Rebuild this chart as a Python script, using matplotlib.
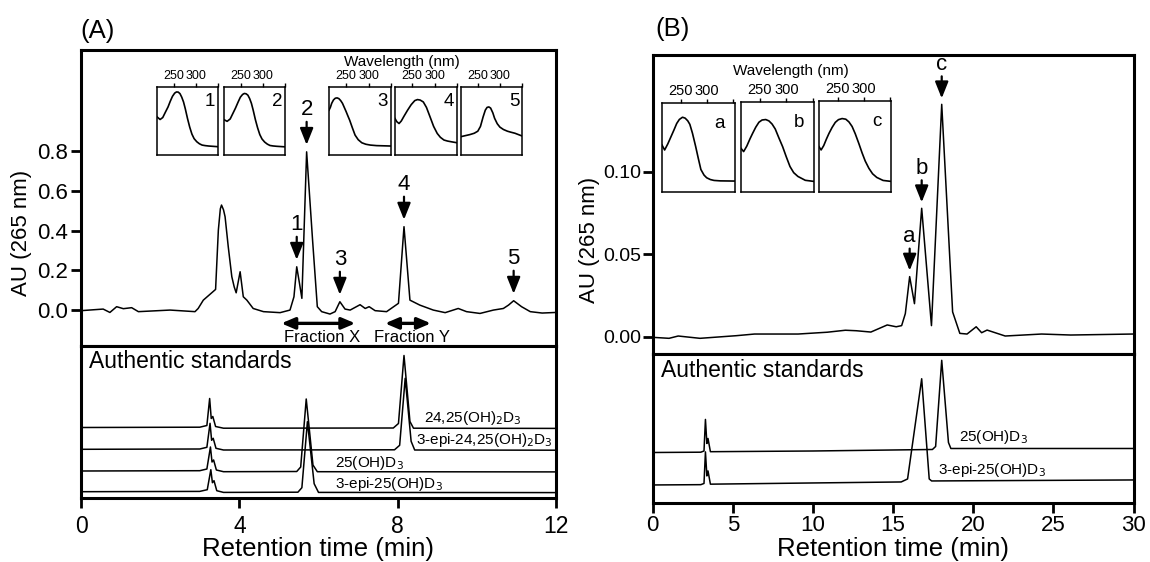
import numpy as np
import matplotlib
matplotlib.use('Agg')
import matplotlib.pyplot as plt

plt.rcParams['font.family'] = ['Liberation Sans', 'DejaVu Sans']

W, H = 1150, 562

# ---------------- Panel A: main chromatogram ----------------
a_time = [0.00, 0.56, 0.73, 0.90, 1.07, 1.28, 1.45, 2.25, 2.88, 2.96, 3.09, 3.40, 3.47, 3.52, 3.55,
          3.60, 3.64, 3.72, 3.81, 3.87, 3.92, 4.02, 4.10, 4.19, 4.35, 4.61, 5.03, 5.28, 5.38, 5.45,
          5.52, 5.58, 5.70, 5.85, 5.97, 6.08, 6.29, 6.42, 6.54, 6.67, 6.80, 7.05, 7.18, 7.28, 7.43,
          7.72, 8.02, 8.16, 8.31, 8.56, 8.90, 9.20, 9.53, 9.74, 10.08, 10.42, 10.67, 10.80, 10.93,
          11.13, 11.35, 11.65, 12.00]
a_au = [-0.003, 0.005, -0.012, 0.017, 0.007, 0.012, -0.008, 0.000, -0.008, 0.008, 0.050, 0.104, 0.403,
        0.510, 0.529, 0.505, 0.470, 0.319, 0.168, 0.117, 0.087, 0.193, 0.067, 0.050, 0.008, -0.008,
        -0.013, 0.000, 0.067, 0.218, 0.134, 0.059, 0.797, 0.353, 0.017, -0.008, -0.020, -0.008, 0.042,
        0.005, 0.000, 0.027, 0.008, 0.017, -0.003, -0.008, 0.034, 0.420, 0.050, 0.025, 0.000, -0.013,
        0.008, -0.008, -0.017, 0.000, 0.008, 0.025, 0.047, 0.017, -0.008, -0.015, -0.012]
a_peak_labels = ['1', '2', '3', '4', '5']
a_peak_times = [5.45, 5.70, 6.54, 8.16, 10.93]

# Authentic standards (panel A), signal above each trace's own baseline (arbitrary units)
std_a_names = ['24,25(OH)$_2$D$_3$', '3-epi-24,25(OH)$_2$D$_3$', '25(OH)D$_3$', '3-epi-25(OH)D$_3$']
std_a_offset = [70.5, 48.7, 27.0, 6.3]
std_a_time = [
    [0, 3.00, 3.18, 3.25, 3.29, 3.33, 3.40, 3.60, 7.89, 8.02, 8.16, 8.31, 8.40, 12],
    [0, 3.00, 3.18, 3.26, 3.30, 3.34, 3.41, 3.60, 7.92, 8.05, 8.19, 8.34, 8.43, 12],
    [0, 3.00, 3.18, 3.27, 3.31, 3.35, 3.42, 3.60, 5.45, 5.55, 5.69, 5.86, 5.97, 12],
    [0, 3.00, 3.19, 3.28, 3.32, 3.36, 3.43, 3.60, 5.48, 5.58, 5.72, 5.89, 6.00, 12],
]
std_a_signal = [
    [0, 0.3, 2, 29, 9, 11, 1, -0.7, -0.5, 4, 72, 6, -0.7, -0.9],
    [0, 0.3, 2, 26, 9, 11, 1, -0.7, -0.5, 4, 71, 8, -0.7, -0.9],
    [0, 0.3, 2, 24, 9, 11, 1, -0.7, -0.5, 4, 72, 6, -0.7, -0.9],
    [0, 0.3, 2, 22, 9, 11, 1, -0.7, -0.5, 4, 70, 8, -0.7, -0.9],
]
std_a_label_pos = [(8.66, 79.7), (8.46, 58.0), (6.41, 35.3), (6.41, 14.0)]

# UV spectra insets (panel A): wavelength nm, relative absorbance
spec_a_labels = ['1', '2', '3', '4', '5']
spec_a_wl = [
    [212, 219, 225, 231, 237, 242, 247, 252, 256, 260, 264, 268, 272, 276, 281, 286, 291, 296, 302, 308, 314, 321, 329, 350],
    [212, 219, 226, 232, 238, 244, 249, 254, 258, 262, 266, 270, 274, 278, 283, 288, 293, 298, 304, 310, 316, 323, 331, 350],
    [212, 215, 218, 222, 226, 230, 234, 238, 242, 246, 250, 254, 258, 264, 270, 277, 285, 294, 304, 318, 350],
    [212, 216, 221, 226, 232, 240, 248, 256, 262, 268, 275, 282, 290, 298, 306, 313, 321, 329, 337, 350],
    [212, 222, 232, 242, 250, 256, 262, 267, 271, 275, 279, 284, 288, 294, 300, 308, 317, 325, 334, 350],
]
spec_a_abs = [
    [0.561, 0.522, 0.551, 0.630, 0.707, 0.790, 0.863, 0.910, 0.927, 0.925, 0.902, 0.850, 0.780, 0.680, 0.537, 0.410, 0.307, 0.240, 0.195, 0.165, 0.146, 0.138, 0.132, 0.122],
    [0.520, 0.495, 0.530, 0.610, 0.690, 0.780, 0.850, 0.890, 0.905, 0.900, 0.880, 0.830, 0.760, 0.660, 0.520, 0.400, 0.300, 0.235, 0.190, 0.160, 0.140, 0.133, 0.128, 0.120],
    [0.659, 0.700, 0.760, 0.810, 0.835, 0.840, 0.829, 0.800, 0.760, 0.700, 0.640, 0.575, 0.512, 0.400, 0.293, 0.225, 0.180, 0.158, 0.146, 0.138, 0.132],
    [0.537, 0.490, 0.463, 0.500, 0.570, 0.659, 0.740, 0.800, 0.815, 0.808, 0.780, 0.700, 0.561, 0.420, 0.317, 0.260, 0.220, 0.205, 0.195, 0.180],
    [0.270, 0.285, 0.300, 0.320, 0.350, 0.420, 0.560, 0.660, 0.700, 0.707, 0.690, 0.620, 0.540, 0.460, 0.410, 0.375, 0.350, 0.335, 0.320, 0.280],
]

# ---------------- Panel B ----------------
b_time = [0.00, 1.02, 1.59, 2.95, 5.22, 6.35, 9.07, 10.89, 12.02, 12.70, 13.61, 14.63, 15.19, 15.53,
          15.76, 16.03, 16.33, 16.78, 17.39, 18.03, 18.71, 19.16, 19.61, 20.18, 20.52, 20.86, 21.99,
          24.26, 26.08, 29.93]
b_au = [-0.0004, -0.0010, 0.0004, -0.0010, 0.0006, 0.0016, 0.0016, 0.0027, 0.0039, 0.0036, 0.0028,
        0.0071, 0.0060, 0.0067, 0.0140, 0.0364, 0.0200, 0.0778, 0.0067, 0.1408, 0.0150, 0.0020,
        0.0016, 0.0060, 0.0024, 0.0040, 0.0004, 0.0016, 0.0010, 0.0016]
b_peak_labels = ['a', 'b', 'c']
b_peak_times = [16.03, 16.78, 18.03]

std_b_names = ['25(OH)D$_3$', '3-epi-25(OH)D$_3$']
std_b_offset = [50.7, 18.3]
std_b_time = [
    [0, 3.00, 3.20, 3.29, 3.38, 3.45, 3.60, 10, 17.45, 17.65, 18.03, 18.45, 18.60, 30],
    [0, 3.00, 3.20, 3.29, 3.38, 3.45, 3.60, 10, 15.50, 15.90, 16.78, 17.25, 17.40, 30],
]
std_b_signal = [
    [0, 0.3, 1.5, 33, 9, 14, 0.8, 1.5, 3, 6, 92, 10, 4, 4],
    [0, 0.3, 1.5, 33, 9, 14, 0.8, 2.0, 3, 6, 106, 6, 4, 5],
]
std_b_label_pos = [(19.1, 66.6), (17.8, 33.3)]

spec_b_labels = ['a', 'b', 'c']
spec_b_wl = [
    [214, 219, 225, 231, 237, 242, 247, 253, 258, 263, 267, 272, 278, 283, 288, 294, 299, 306, 313, 325, 352],
    [214, 219, 225, 231, 236, 242, 248, 254, 261, 267, 273, 279, 286, 293, 300, 307, 314, 322, 336, 352],
    [214, 218, 223, 228, 233, 239, 245, 251, 258, 265, 271, 277, 283, 290, 296, 302, 309, 316, 324, 336, 352],
]
spec_b_abs = [
    [0.528, 0.472, 0.540, 0.620, 0.700, 0.770, 0.815, 0.840, 0.830, 0.800, 0.760, 0.660, 0.513, 0.380, 0.253, 0.190, 0.160, 0.140, 0.130, 0.125, 0.123],
    [0.485, 0.449, 0.510, 0.590, 0.651, 0.720, 0.775, 0.800, 0.805, 0.790, 0.755, 0.700, 0.600, 0.504, 0.390, 0.283, 0.215, 0.173, 0.130, 0.118],
    [0.498, 0.462, 0.510, 0.580, 0.644, 0.710, 0.765, 0.795, 0.807, 0.800, 0.770, 0.720, 0.640, 0.530, 0.430, 0.340, 0.260, 0.200, 0.160, 0.127, 0.116],
]

# ---------------- drawing ----------------
fig = plt.figure(figsize=(W / 100, H / 100), dpi=100)


def px_axes(l, t, r, b):
    return fig.add_axes([l / W, 1 - b / H, (r - l) / W, (b - t) / H])


def frame(ax, lw=2.2):
    for s in ax.spines.values():
        s.set_linewidth(lw)


def peak_arrow(ax, x, y, label, gap, length, fs):
    ax.annotate('', xy=(x, y), xytext=(0, gap + length), textcoords='offset pixels',
                arrowprops=dict(arrowstyle='-|>,head_length=0.5,head_width=0.2', lw=1.6,
                                color='k', shrinkA=0, shrinkB=gap * 0.72, mutation_scale=20))
    ax.annotate(label, xy=(x, y), xytext=(0, gap + length + 12), textcoords='offset pixels',
                ha='center', va='center', fontsize=fs)


def inset(l, t, r, b, wl, ab, lab, xlim, tfs, lab_xy):
    ax = px_axes(l, t, r, b)
    ax.plot(wl, ab, color='k', lw=1.2)
    ax.set_xlim(*xlim)
    ax.set_ylim(0, 1)
    ax.set_yticks([])
    ax.set_xticks([250, 300, 350])
    ax.set_xticklabels(['250', '300', ''])
    ax.xaxis.tick_top()
    ax.tick_params(axis='x', direction='out', length=3, width=1, pad=0.5, labelsize=tfs)
    for s in ax.spines.values():
        s.set_linewidth(1.1)
    ax.text(lab_xy[0], lab_xy[1], lab, transform=ax.transAxes, ha='right', va='baseline', fontsize=13.5)
    return ax


# Panel A top
axA = px_axes(81, 50, 556, 346)
frame(axA)
axA.plot(a_time, a_au, color='k', lw=1.1)
axA.set_xlim(0, 12)
axA.set_ylim(-0.181, 1.31)
axA.set_xticks([])
axA.set_yticks([0, 0.2, 0.4, 0.6, 0.8])
axA.set_yticklabels(['0.0', '0.2', '0.4', '0.6', '0.8'])
axA.tick_params(axis='y', direction='out', length=7, width=2, labelsize=16, pad=2.5)
for lab, t in zip(a_peak_labels, a_peak_times):
    peak_arrow(axA, t, np.interp(t, a_time, a_au), lab, 7, 23, 16)
frac_style = dict(arrowstyle='<|-|>,head_length=0.4,head_width=0.17', lw=2.4, color='k',
                  shrinkA=0, shrinkB=0, mutation_scale=20)
axA.annotate('', xy=(5.06, -0.067), xytext=(6.93, -0.067), arrowprops=frac_style)
axA.annotate('', xy=(7.68, -0.067), xytext=(8.84, -0.067), arrowprops=frac_style)
axA.text(6.08, -0.136, 'Fraction X', ha='center', va='center', fontsize=12)
axA.text(8.35, -0.136, 'Fraction Y', ha='center', va='center', fontsize=12)

# Panel A bottom
axA2 = px_axes(81, 346, 556, 498)
frame(axA2)
for tt, sig, off in zip(std_a_time, std_a_signal, std_a_offset):
    axA2.plot(tt, np.array(sig) + off, color='k', lw=1.1)
for name, (x, y) in zip(std_a_names, std_a_label_pos):
    axA2.text(x, y, name, ha='left', va='center', fontsize=11)
axA2.set_xlim(0, 12)
axA2.set_ylim(0, 152)
axA2.set_yticks([])
axA2.set_xticks([0, 4, 8, 12])
axA2.tick_params(axis='x', direction='out', length=7, width=2, labelsize=16.5, pad=5)
axA2.text(0.017, 0.9, 'Authentic standards', transform=axA2.transAxes, ha='left', va='center',
          fontsize=16.5)

# Panel A insets
a_inset_boxes = [(157, 218), (224, 285), (329, 391), (395, 457), (461, 522)]
for (l, r), wl, ab, lab in zip(a_inset_boxes, spec_a_wl, spec_a_abs, spec_a_labels):
    inset(l, 87, r, 155, wl, ab, lab, (212, 350), 9, (0.955, 0.72))
fig.text(402 / W, 1 - 62 / H, 'Wavelength (nm)', ha='center', va='center', fontsize=11)

# Panel B top
axB = px_axes(652.7, 55, 1133.6, 354)
frame(axB)
axB.plot(b_time, b_au, color='k', lw=1.1)
axB.set_xlim(0, 30)
axB.set_ylim(-0.0105, 0.1707)
axB.set_xticks([])
axB.set_yticks([0, 0.05, 0.10])
axB.set_yticklabels(['0.00', '0.05', '0.10'])
axB.tick_params(axis='y', direction='out', length=7, width=2, labelsize=14, pad=1)
for lab, t in zip(b_peak_labels, b_peak_times):
    peak_arrow(axB, t, np.interp(t, b_time, b_au), lab, 6, 22, 16)

# Panel B bottom
axB2 = px_axes(652.7, 354, 1133.6, 503.3)
frame(axB2)
for tt, sig, off in zip(std_b_time, std_b_signal, std_b_offset):
    axB2.plot(tt, np.array(sig) + off, color='k', lw=1.1)
for name, (x, y) in zip(std_b_names, std_b_label_pos):
    axB2.text(x, y, name, ha='left', va='center', fontsize=11)
axB2.set_xlim(0, 30)
axB2.set_ylim(0, 149)
axB2.set_yticks([])
axB2.set_xticks([0, 5, 10, 15, 20, 25, 30])
axB2.tick_params(axis='x', direction='out', length=7, width=2, labelsize=16, pad=1.5)
axB2.text(0.017, 0.89, 'Authentic standards', transform=axB2.transAxes, ha='left', va='center',
          fontsize=16.5)

b_inset_boxes = [(662, 734.5, 103), (741, 813.7, 102), (819, 891.5, 101)]
for (l, r, t), wl, ab, lab in zip(b_inset_boxes, spec_b_wl, spec_b_abs, spec_b_labels):
    inset(l, t, r, 192, wl, ab, lab, (214, 352), 10.5, (0.87, 0.72))
fig.text(791 / W, 1 - 71 / H, 'Wavelength (nm)', ha='center', va='center', fontsize=11)

# axis labels and panel letters
fig.text(318.5 / W, 1 - 549 / H, 'Retention time (min)', ha='center', va='center', fontsize=18.5)
fig.text(893 / W, 1 - 549 / H, 'Retention time (min)', ha='center', va='center', fontsize=18.5)
fig.text(22 / W, 1 - 233 / H, 'AU (265 nm)', ha='center', va='center', rotation=90, fontsize=16)
fig.text(590 / W, 1 - 240 / H, 'AU (265 nm)', ha='center', va='center', rotation=90, fontsize=16)
fig.text(80 / W, 1 - 31 / H, '(A)', ha='left', va='center', fontsize=18.5)
fig.text(655 / W, 1 - 29 / H, '(B)', ha='left', va='center', fontsize=18.5)

fig.savefig('out.png', dpi=100)
